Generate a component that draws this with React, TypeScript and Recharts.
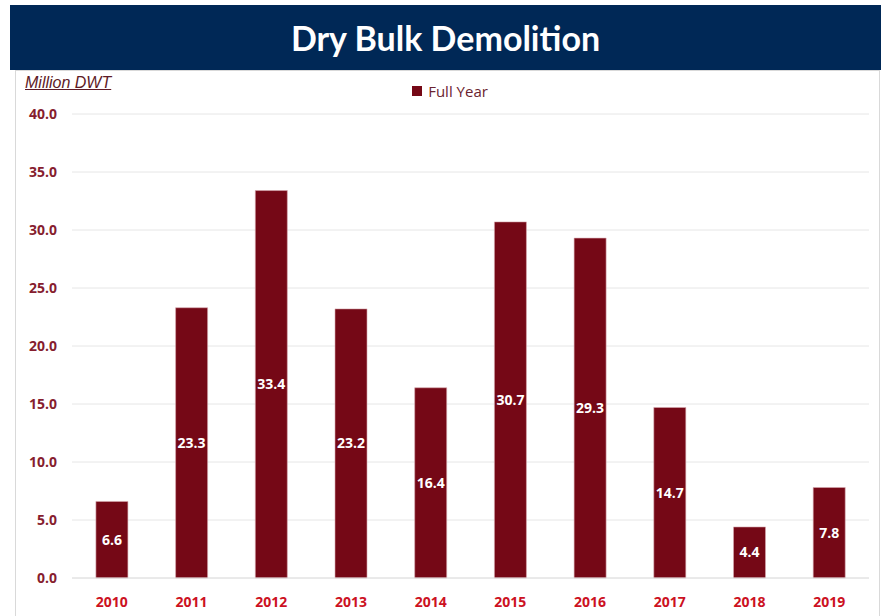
import { BarChart, Bar, XAxis, YAxis, CartesianGrid, Legend, LabelList } from 'recharts';

const years = ['2010', '2011', '2012', '2013', '2014', '2015', '2016', '2017', '2018', '2019'];
const fullYear = [6.6, 23.3, 33.4, 23.2, 16.4, 30.7, 29.3, 14.7, 4.4, 7.8];
const yTicks = [0, 5, 10, 15, 20, 25, 30, 35, 40];

const data = years.map((year, i) => ({ year, fullYear: fullYear[i] }));

const BAR_COLOR = '#750816';
const FONT = '"Open Sans", "DejaVu Sans", sans-serif';

const LegendContent = () => (
  <div style={{ display: 'flex', justifyContent: 'center', alignItems: 'center', fontFamily: FONT, fontSize: 15 }}>
    <span style={{ display: 'inline-block', width: 10, height: 10, background: BAR_COLOR, marginRight: 6 }} />
    <span style={{ color: '#6b2330' }}>Full Year</span>
  </div>
);

const App = () => {
  return (
    <div style={{ position: 'absolute', left: 0, top: 0, width: 881, height: 616, background: '#fff', overflow: 'hidden' }}>
      <div
        style={{
          position: 'absolute',
          left: 10,
          top: 5,
          width: 871,
          height: 65,
          background: '#002856',
          color: '#fff',
          fontFamily: 'Lato, "Open Sans", sans-serif',
          fontWeight: 700,
          fontSize: 34,
          display: 'flex',
          alignItems: 'center',
          justifyContent: 'center',
        }}
      >
        Dry Bulk Demolition
      </div>
      <div
        style={{
          position: 'absolute',
          left: 15,
          top: 70,
          width: 863,
          height: 560,
          border: '1px solid #d9d9d9',
        }}
      />
      <div
        style={{
          position: 'absolute',
          left: 25,
          top: 74,
          fontFamily: '"Liberation Sans", Arial, sans-serif',
          fontStyle: 'italic',
          fontSize: 16,
          color: '#5e1a26',
          textDecoration: 'underline',
        }}
      >
        Million DWT
      </div>
      <div style={{ position: 'absolute', left: 0, top: 0 }}>
        <BarChart width={881} height={616} data={data} margin={{ top: 114, right: 12, bottom: 0, left: 0 }} barCategoryGap="30%">
          <CartesianGrid vertical={false} stroke="#e6e6e6" />
          <XAxis
            dataKey="year"
            height={38}
            axisLine={{ stroke: '#e0e0e0' }}
            tickLine={false}
            tickMargin={13}
            tick={{ fill: '#cc1122', fontSize: 14, fontWeight: 700, fontFamily: FONT }}
          />
          <YAxis
            width={72}
            domain={[0, 40]}
            ticks={yTicks}
            tickFormatter={(v: number) => v.toFixed(1)}
            axisLine={false}
            tickLine={false}
            tickSize={0}
            tickMargin={15}
            tick={{ fill: '#861d2e', fontSize: 14, fontWeight: 700, fontFamily: FONT }}
          />
          <Legend
            verticalAlign="middle"
            align="center"
            wrapperStyle={{ top: 81, left: 0, width: 900 }}
            content={<LegendContent />}
          />
          <Bar dataKey="fullYear" name="Full Year" fill={BAR_COLOR} stroke="#d8aab0" strokeWidth={0.6} isAnimationActive={false}>
            <LabelList
              dataKey="fullYear"
              position="center"
              formatter={(v: any) => Number(v).toFixed(1)}
              style={{ fill: '#fff', fontSize: 14, fontWeight: 700, fontFamily: FONT }}
            />
          </Bar>
        </BarChart>
      </div>
    </div>
  );
};

export default App;
